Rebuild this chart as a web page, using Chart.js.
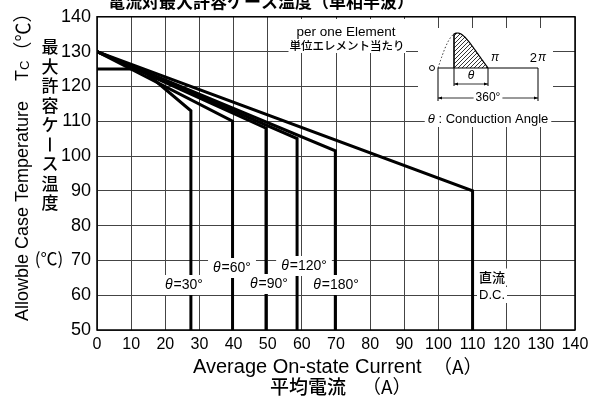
<!DOCTYPE html>
<html>
<head>
<meta charset="utf-8">
<script src="https://cdn.jsdelivr.net/npm/chart.js@4/dist/chart.umd.min.js"></script>
<style>
  html, body { margin: 0; padding: 0; background: #fff; }
  #wrap { width: 594px; height: 403px; position: relative; }
</style>
</head>
<body>
<div id="wrap"><canvas id="grafica"></canvas></div>
<script>
// ejes
const xTickLabels = [0, 10, 20, 30, 40, 50, 60, 70, 80, 90, 100, 110, 120, 130, 140];
const yTickLabels = [50, 60, 70, 80, 90, 100, 110, 120, 130, 140];

// curvas: corriente media (A) vs temperatura de caja (°C)
const dcX = [0, 110, 110];
const dcY = [130, 90, 50];
const th30X = [0, 13, 27.5, 27.5];
const th30Y = [125, 125, 113, 50];
const th60X = [0, 39.7, 39.7];
const th60Y = [130, 110, 50];
const th90X = [0, 49.5, 49.5];
const th90Y = [130, 108, 50];
const th120X = [0, 58.6, 58.6];
const th120Y = [130, 105, 50];
const th180X = [0, 69.8, 69.8];
const th180Y = [130, 101.5, 50];

const EN = '"Liberation Sans", Arial, sans-serif';
const JP = '"Noto Sans CJK JP", sans-serif';

function puntos(xs, ys) {
  return xs.map((x, i) => ({ x: x, y: ys[i] }));
}
function serie(xs, ys) {
  return {
    data: puntos(xs, ys),
    borderColor: "#000",
    borderWidth: 3,
    pointRadius: 0,
    fill: false,
    tension: 0,
    borderJoinStyle: "miter",
  };
}

// texto con fondo blanco
function caja(ctx, text, cx, cy, font, padX, h) {
  ctx.font = font;
  const w = ctx.measureText(text).width;
  ctx.fillStyle = "#fff";
  ctx.fillRect(cx - w / 2 - padX, cy - h / 2, w + padX * 2, h);
  ctx.fillStyle = "#000";
  ctx.textAlign = "center";
  ctx.textBaseline = "middle";
  ctx.fillText(text, cx, cy);
}

// etiqueta theta=xx°
function theta(ctx, rest, cx, cy) {
  const fT = "italic 14px " + EN;
  const fR = "14px " + EN;
  ctx.font = fT;
  const wT = ctx.measureText("θ").width;
  ctx.font = fR;
  const wR = ctx.measureText(rest).width;
  const w = wT + wR + 1;
  ctx.fillStyle = "#fff";
  ctx.fillRect(cx - w / 2 - 5, cy - 10, w + 10, 20);
  ctx.fillStyle = "#000";
  ctx.textAlign = "left";
  ctx.textBaseline = "middle";
  ctx.font = fT;
  ctx.fillText("θ", cx - w / 2, cy);
  ctx.font = fR;
  ctx.fillText(rest, cx - w / 2 + wT + 1, cy);
}

function flecha(ctx, x1, x2, y) {
  ctx.beginPath();
  ctx.moveTo(x1, y); ctx.lineTo(x2, y);
  ctx.stroke();
  ctx.beginPath();
  ctx.moveTo(x1, y); ctx.lineTo(x1 + 4, y - 1.5); ctx.lineTo(x1 + 4, y + 1.5); ctx.closePath();
  ctx.moveTo(x2, y); ctx.lineTo(x2 - 4, y - 1.5); ctx.lineTo(x2 - 4, y + 1.5); ctx.closePath();
  ctx.fill();
}

const decoracion = {
  id: "decoracion",
  afterDatasetsDraw(chart) {
    const ctx = chart.ctx;
    const a = chart.chartArea;
    ctx.save();

    // marco
    ctx.strokeStyle = "#000";
    ctx.lineWidth = 1.5;
    ctx.strokeRect(a.left, a.top, a.right - a.left, a.bottom - a.top);

    // título cortado arriba
    ctx.font = "bold 17px " + JP;
    ctx.fillStyle = "#000";
    ctx.textAlign = "left";
    ctx.textBaseline = "alphabetic";
    ctx.fillText("電流対最大許容ケース温度（単相半波）", 108, 8);

    // per one Element
    ctx.fillStyle = "#fff";
    ctx.fillRect(291, 19, 115, 34);
    caja(ctx, "per one Element", 346, 32, "13.5px " + EN, 0, 14);
    caja(ctx, "単位エレメント当たり", 347, 46, "500 11.5px " + JP, 1, 14);

    // recuadro del ángulo de conducción
    ctx.fillStyle = "#fff";
    ctx.fillRect(418, 28, 135, 84);
    const x0 = 438, yb = 68, xs = 454, xp = 488, x2 = 538, amp = 35;
    // medio ciclo ligeramente inclinado hacia la izquierda
    const seno = (x) => {
      const t = (x - x0) / (xp - x0);
      const u = t + 0.12 * Math.sin(Math.PI * t);
      return yb - amp * Math.sin(Math.PI * u);
    };
    ctx.save();
    ctx.beginPath();
    ctx.moveTo(xs, yb);
    for (let x = xs; x <= xp; x += 0.5) ctx.lineTo(x, seno(x));
    ctx.lineTo(xp, yb);
    ctx.closePath();
    ctx.clip();
    ctx.strokeStyle = "#000";
    ctx.lineWidth = 0.8;
    for (let k = -40; k < 60; k += 4) {
      ctx.beginPath();
      ctx.moveTo(xs + k, yb);
      ctx.lineTo(xs + k + 40, yb - 40);
      ctx.stroke();
    }
    ctx.restore();
    ctx.strokeStyle = "#000";
    ctx.lineWidth = 1.2;
    ctx.beginPath();
    ctx.moveTo(xs, yb);
    for (let x = xs; x <= xp; x += 0.5) ctx.lineTo(x, seno(x));
    ctx.stroke();
    ctx.setLineDash([1.5, 2]);
    ctx.lineWidth = 0.8;
    ctx.beginPath();
    ctx.moveTo(x0, yb);
    for (let x = x0; x <= xs; x += 0.5) ctx.lineTo(x, seno(x));
    ctx.stroke();
    ctx.setLineDash([]);
    ctx.lineWidth = 1;
    ctx.beginPath();
    ctx.moveTo(x0, yb); ctx.lineTo(x2, yb);
    ctx.moveTo(xs, seno(xs)); ctx.lineTo(xs, 86);
    ctx.moveTo(xp, yb); ctx.lineTo(xp, 86);
    ctx.moveTo(x0, yb); ctx.lineTo(x0, 101);
    ctx.moveTo(x2, yb); ctx.lineTo(x2, 101);
    ctx.stroke();
    ctx.beginPath();
    ctx.arc(432, yb, 2.5, 0, Math.PI * 2);
    ctx.stroke();
    ctx.fillStyle = "#000";
    ctx.lineWidth = 0.8;
    flecha(ctx, xs, xp, 84);
    flecha(ctx, x0, x2, 98);
    ctx.font = "italic 12px " + EN;
    ctx.textAlign = "center";
    ctx.textBaseline = "middle";
    ctx.fillText("θ", 471, 76);
    ctx.fillText("π", 495, 58);
    ctx.font = "13px " + EN;
    ctx.textAlign = "right";
    ctx.fillText("2", 537, 58);
    ctx.font = "italic 12px " + EN;
    ctx.textAlign = "left";
    ctx.fillText("π", 538, 58);
    caja(ctx, "360°", 488, 98, "12px " + EN, 2, 12);

    // θ : Conduction Angle
    ctx.font = "13px " + EN;
    const tca = " : Conduction Angle";
    const wc = ctx.measureText(tca).width;
    ctx.font = "italic 13px " + EN;
    const wt = ctx.measureText("θ").width;
    const xc = 488 - (wc + wt) / 2;
    ctx.fillStyle = "#fff";
    ctx.fillRect(xc - 3, 111, wc + wt + 6, 16);
    ctx.fillStyle = "#000";
    ctx.textAlign = "left";
    ctx.fillText("θ", xc, 119);
    ctx.font = "13px " + EN;
    ctx.fillText(tca, xc + wt, 119);

    // etiquetas de las curvas
    theta(ctx, "=30°", 184, 285);
    theta(ctx, "=60°", 232, 268);
    theta(ctx, "=90°", 269, 284);
    theta(ctx, "=120°", 304, 266);
    theta(ctx, "=180°", 336, 285);
    caja(ctx, "直流", 492, 277, "500 13px " + JP, 2, 17);
    caja(ctx, "D.C.", 492, 295, "13px " + EN, 2, 16);

    // título eje y (inglés, girado)
    ctx.save();
    ctx.translate(23, 321);
    ctx.rotate(-Math.PI / 2);
    ctx.fillStyle = "#000";
    ctx.textAlign = "left";
    ctx.textBaseline = "middle";
    ctx.font = "18px " + EN;
    let px = 0;
    const t1 = "Allowble Case Temperature";
    ctx.fillText(t1, px, 0);
    px += ctx.measureText(t1).width + 20;
    ctx.fillText("T", px, 0);
    px += ctx.measureText("T").width;
    ctx.font = "13px " + EN;
    ctx.fillText("C", px, 2);
    px += ctx.measureText("C").width;
    ctx.font = "19px " + JP;
    ctx.fillText("（℃）", px, 0);
    ctx.restore();

    // título eje y (japonés, vertical)
    ctx.font = "500 17px " + JP;
    ctx.textAlign = "center";
    ctx.textBaseline = "middle";
    const vert = "最大許容ケース温度".split("");
    vert.forEach((ch, i) => {
      if (ch === "ー") {
        ctx.fillRect(49, 47 + i * 19.5 - 7, 1.8, 14);
      } else {
        ctx.fillText(ch, 50, 47 + i * 19.5);
      }
    });
    ctx.font = "17px " + JP;
    ctx.fillText("(℃)", 49, 259);

    // título eje x
    ctx.font = "20px " + EN;
    ctx.textAlign = "left";
    ctx.fillText("Average On-state Current", 193, 367);
    ctx.font = "19px " + JP;
    ctx.fillText("（A）", 433, 367);
    ctx.font = "500 19px " + JP;
    ctx.fillText("平均電流", 270, 387);
    ctx.font = "19px " + JP;
    ctx.fillText("（A）", 362, 387);

    ctx.restore();
  },
};

new Chart(document.getElementById("grafica"), {
  type: "line",
  data: {
    datasets: [
      serie(dcX, dcY),
      serie(th30X, th30Y),
      serie(th60X, th60Y),
      serie(th90X, th90Y),
      serie(th120X, th120Y),
      serie(th180X, th180Y),
    ],
  },
  options: {
    responsive: true,
    maintainAspectRatio: false,
    animation: false,
    devicePixelRatio: 1,
    layout: { padding: { top: 12, right: 19, left: 0, bottom: 0 } },
    plugins: { legend: { display: false }, tooltip: { enabled: false } },
    scales: {
      x: {
        type: "linear",
        min: xTickLabels[0],
        max: xTickLabels[xTickLabels.length - 1],
        afterBuildTicks: (s) => { s.ticks = xTickLabels.map((v) => ({ value: v })); },
        afterFit: (s) => { s.height = 73; },
        grid: { color: "#444", lineWidth: 1, drawTicks: false },
        border: { display: false },
        ticks: { color: "#000", padding: 5, maxRotation: 0, autoSkip: false, font: { family: EN, size: 16 } },
      },
      y: {
        type: "linear",
        min: yTickLabels[0],
        max: yTickLabels[yTickLabels.length - 1],
        afterBuildTicks: (s) => { s.ticks = yTickLabels.map((v) => ({ value: v })); },
        afterFit: (s) => { s.width = 97; },
        grid: { color: "#444", lineWidth: 1, drawTicks: false },
        border: { display: false },
        ticks: { color: "#000", padding: 6, autoSkip: false, font: { family: EN, size: 18 } },
      },
    },
  },
  plugins: [decoracion],
});
</script>
</body>
</html>
